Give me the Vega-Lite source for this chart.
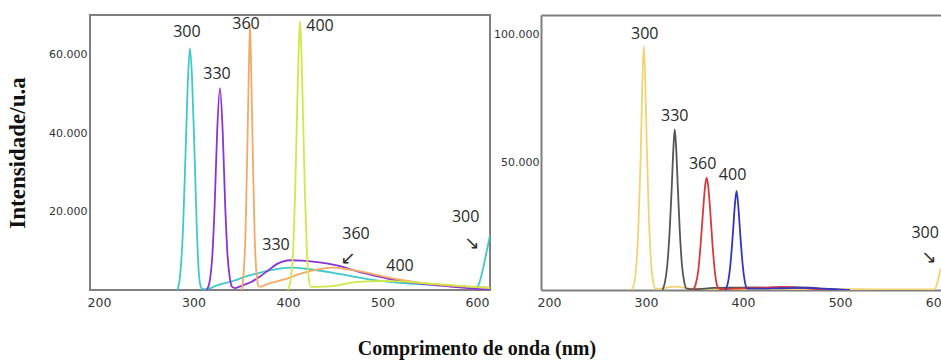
{
  "$schema": "https://vega.github.io/schema/vega-lite/v6.json",
  "background": "white",
  "padding": {"left": 5, "top": 14, "right": 0, "bottom": 4},
  "config": {
    "view": {"stroke": "#7f7f7f", "strokeWidth": 2},
    "concat": {"spacing": 2},
    "axis": {"grid": false, "ticks": false, "tickSize": 0, "labelFont": "DejaVu Sans", "labelColor": "#333333", "labelFlush": false}
  },
  "title": {"text": "Comprimento de onda (nm)", "orient": "bottom", "anchor": "middle", "frame": "bounds", "font": "Liberation Serif", "fontSize": 20, "fontWeight": "bold", "color": "#111111", "offset": 29},
  "resolve": {"scale": {"color": "independent"}},
  "datasets": {
    "linesA": [
      {"ex": "300", "nm": 283, "k": 0}, {"ex": "300", "nm": 286, "k": 4}, {"ex": "300", "nm": 289, "k": 16}, {"ex": "300", "nm": 291.5, "k": 34}, {"ex": "300", "nm": 294, "k": 53}, {"ex": "300", "nm": 296.3, "k": 61.7}, {"ex": "300", "nm": 298.5, "k": 54}, {"ex": "300", "nm": 301, "k": 36}, {"ex": "300", "nm": 303.5, "k": 16}, {"ex": "300", "nm": 305.5, "k": 5}, {"ex": "300", "nm": 307.5, "k": 1}, {"ex": "300", "nm": 310, "k": 0.2}, {"ex": "300", "nm": 316, "k": 0.3}, {"ex": "300", "nm": 325, "k": 1.2}, {"ex": "300", "nm": 342, "k": 2.3}, {"ex": "300", "nm": 355, "k": 3.4}, {"ex": "300", "nm": 370, "k": 4.4}, {"ex": "300", "nm": 385, "k": 5.2}, {"ex": "300", "nm": 402, "k": 5.7}, {"ex": "300", "nm": 423, "k": 5.3}, {"ex": "300", "nm": 448, "k": 4.4}, {"ex": "300", "nm": 465, "k": 3.6}, {"ex": "300", "nm": 484, "k": 2.8}, {"ex": "300", "nm": 518, "k": 1.8}, {"ex": "300", "nm": 553, "k": 1.3}, {"ex": "300", "nm": 589, "k": 0.8}, {"ex": "300", "nm": 598, "k": 0.4}, {"ex": "300", "nm": 602, "k": 1.5}, {"ex": "300", "nm": 606, "k": 5}, {"ex": "300", "nm": 610, "k": 9.5}, {"ex": "300", "nm": 613.8, "k": 14},
      {"ex": "330", "nm": 314, "k": 0}, {"ex": "330", "nm": 317, "k": 2}, {"ex": "330", "nm": 320, "k": 9}, {"ex": "330", "nm": 322.5, "k": 22}, {"ex": "330", "nm": 325, "k": 40}, {"ex": "330", "nm": 328, "k": 51.5}, {"ex": "330", "nm": 331, "k": 40}, {"ex": "330", "nm": 333.5, "k": 22}, {"ex": "330", "nm": 336, "k": 9}, {"ex": "330", "nm": 338.5, "k": 3}, {"ex": "330", "nm": 341, "k": 0.8}, {"ex": "330", "nm": 344, "k": 0.5}, {"ex": "330", "nm": 352, "k": 1.2}, {"ex": "330", "nm": 360, "k": 1.9}, {"ex": "330", "nm": 370, "k": 3.4}, {"ex": "330", "nm": 378, "k": 4.8}, {"ex": "330", "nm": 388, "k": 6.6}, {"ex": "330", "nm": 396, "k": 7.4}, {"ex": "330", "nm": 402, "k": 7.6}, {"ex": "330", "nm": 415, "k": 7.5}, {"ex": "330", "nm": 431, "k": 7.1}, {"ex": "330", "nm": 445, "k": 6.6}, {"ex": "330", "nm": 458, "k": 5.9}, {"ex": "330", "nm": 470, "k": 5.0}, {"ex": "330", "nm": 484, "k": 4.1}, {"ex": "330", "nm": 500, "k": 3.2}, {"ex": "330", "nm": 518, "k": 2.3}, {"ex": "330", "nm": 535, "k": 1.8}, {"ex": "330", "nm": 553, "k": 1.3}, {"ex": "330", "nm": 575, "k": 0.8}, {"ex": "330", "nm": 600, "k": 0.3}, {"ex": "330", "nm": 613.8, "k": 0.2},
      {"ex": "360", "nm": 351, "k": 0}, {"ex": "360", "nm": 353, "k": 4}, {"ex": "360", "nm": 355, "k": 14}, {"ex": "360", "nm": 357, "k": 36}, {"ex": "360", "nm": 358.6, "k": 56}, {"ex": "360", "nm": 359.8, "k": 67.9}, {"ex": "360", "nm": 361, "k": 57}, {"ex": "360", "nm": 362.6, "k": 37}, {"ex": "360", "nm": 364.6, "k": 15}, {"ex": "360", "nm": 366.6, "k": 4.5}, {"ex": "360", "nm": 369, "k": 1}, {"ex": "360", "nm": 371, "k": 0.8}, {"ex": "360", "nm": 378, "k": 1.5}, {"ex": "360", "nm": 390, "k": 2.3}, {"ex": "360", "nm": 399, "k": 2.9}, {"ex": "360", "nm": 410, "k": 3.9}, {"ex": "360", "nm": 423, "k": 4.8}, {"ex": "360", "nm": 435, "k": 5.4}, {"ex": "360", "nm": 448, "k": 5.7}, {"ex": "360", "nm": 465, "k": 5.2}, {"ex": "360", "nm": 484, "k": 4.4}, {"ex": "360", "nm": 508, "k": 3.1}, {"ex": "360", "nm": 530, "k": 2.2}, {"ex": "360", "nm": 553, "k": 1.5}, {"ex": "360", "nm": 585, "k": 0.9}, {"ex": "360", "nm": 613.8, "k": 0.6},
      {"ex": "400", "nm": 400, "k": 0}, {"ex": "400", "nm": 403, "k": 3}, {"ex": "400", "nm": 405.5, "k": 10}, {"ex": "400", "nm": 407.5, "k": 24}, {"ex": "400", "nm": 409.5, "k": 44}, {"ex": "400", "nm": 411.2, "k": 60}, {"ex": "400", "nm": 412.7, "k": 68.6}, {"ex": "400", "nm": 414.2, "k": 61}, {"ex": "400", "nm": 415.9, "k": 45}, {"ex": "400", "nm": 417.9, "k": 25}, {"ex": "400", "nm": 420, "k": 10}, {"ex": "400", "nm": 422, "k": 3}, {"ex": "400", "nm": 424, "k": 0.8}, {"ex": "400", "nm": 430, "k": 0.8}, {"ex": "400", "nm": 448, "k": 1.0}, {"ex": "400", "nm": 468, "k": 1.9}, {"ex": "400", "nm": 485, "k": 2.2}, {"ex": "400", "nm": 500, "k": 2.3}, {"ex": "400", "nm": 518, "k": 2.2}, {"ex": "400", "nm": 536, "k": 1.9}, {"ex": "400", "nm": 553, "k": 1.6}, {"ex": "400", "nm": 571, "k": 1.3}, {"ex": "400", "nm": 595, "k": 0.8}, {"ex": "400", "nm": 613.8, "k": 0.5}
    ],
    "labelsA": [
      {"t": "300", "nm": 293, "k": 65.8}, {"t": "330", "nm": 324.9, "k": 55.1}, {"t": "360", "nm": 355.6, "k": 67.9}, {"t": "400", "nm": 433.9, "k": 67.3},
      {"t": "330", "nm": 387.3, "k": 11.5}, {"t": "360", "nm": 472, "k": 14.2}, {"t": "400", "nm": 518.5, "k": 6.1}, {"t": "300", "nm": 588, "k": 18.6}
    ],
    "arrowsA": [
      {"t": "↙", "nm": 463.5, "k": 7.9}, {"t": "↘", "nm": 594.7, "k": 11.8}
    ],
    "linesB": [
      {"ex": "300", "nm": 285, "k": 0}, {"ex": "300", "nm": 288, "k": 3}, {"ex": "300", "nm": 290.5, "k": 12}, {"ex": "300", "nm": 292.5, "k": 28}, {"ex": "300", "nm": 294.5, "k": 52}, {"ex": "300", "nm": 296.3, "k": 82}, {"ex": "300", "nm": 297.7, "k": 95.7}, {"ex": "300", "nm": 299.1, "k": 84}, {"ex": "300", "nm": 300.9, "k": 55}, {"ex": "300", "nm": 302.9, "k": 29}, {"ex": "300", "nm": 305, "k": 12}, {"ex": "300", "nm": 307.5, "k": 3}, {"ex": "300", "nm": 310, "k": 0.5}, {"ex": "300", "nm": 315, "k": 0.5}, {"ex": "300", "nm": 322, "k": 1.0}, {"ex": "300", "nm": 330, "k": 1.3}, {"ex": "300", "nm": 338, "k": 1.0}, {"ex": "300", "nm": 346, "k": 0.5}, {"ex": "300", "nm": 380, "k": 0.4}, {"ex": "300", "nm": 450, "k": 0.4}, {"ex": "300", "nm": 520, "k": 0.3}, {"ex": "300", "nm": 590, "k": 0.2}, {"ex": "300", "nm": 597, "k": 0.2}, {"ex": "300", "nm": 600, "k": 2.5}, {"ex": "300", "nm": 602, "k": 5.5}, {"ex": "300", "nm": 604, "k": 8.6},
      {"ex": "330", "nm": 317, "k": 0}, {"ex": "330", "nm": 319.5, "k": 3}, {"ex": "330", "nm": 322, "k": 10}, {"ex": "330", "nm": 324.5, "k": 24}, {"ex": "330", "nm": 326.5, "k": 40}, {"ex": "330", "nm": 328.3, "k": 56}, {"ex": "330", "nm": 329.6, "k": 63}, {"ex": "330", "nm": 330.9, "k": 57}, {"ex": "330", "nm": 332.7, "k": 41}, {"ex": "330", "nm": 334.7, "k": 24}, {"ex": "330", "nm": 337, "k": 10}, {"ex": "330", "nm": 339.5, "k": 3}, {"ex": "330", "nm": 342, "k": 0.5}, {"ex": "330", "nm": 350, "k": 0.3}, {"ex": "330", "nm": 370, "k": 0.8}, {"ex": "330", "nm": 390, "k": 0.9}, {"ex": "330", "nm": 410, "k": 1.0}, {"ex": "330", "nm": 430, "k": 0.8}, {"ex": "330", "nm": 450, "k": 1.1}, {"ex": "330", "nm": 470, "k": 0.9}, {"ex": "330", "nm": 485, "k": 0.3}, {"ex": "330", "nm": 500, "k": 0},
      {"ex": "360", "nm": 348, "k": 0}, {"ex": "360", "nm": 351, "k": 2}, {"ex": "360", "nm": 354, "k": 8}, {"ex": "360", "nm": 356.5, "k": 19}, {"ex": "360", "nm": 359, "k": 32}, {"ex": "360", "nm": 361, "k": 41}, {"ex": "360", "nm": 362.5, "k": 44}, {"ex": "360", "nm": 364, "k": 41}, {"ex": "360", "nm": 366, "k": 32}, {"ex": "360", "nm": 368.5, "k": 18}, {"ex": "360", "nm": 371, "k": 7}, {"ex": "360", "nm": 373.5, "k": 1.5}, {"ex": "360", "nm": 376, "k": 0.4}, {"ex": "360", "nm": 390, "k": 0.5}, {"ex": "360", "nm": 420, "k": 0.9}, {"ex": "360", "nm": 440, "k": 1.2}, {"ex": "360", "nm": 460, "k": 0.8}, {"ex": "360", "nm": 480, "k": 0.3}, {"ex": "360", "nm": 500, "k": 0},
      {"ex": "400", "nm": 382, "k": 0}, {"ex": "400", "nm": 384.5, "k": 3}, {"ex": "400", "nm": 387, "k": 10}, {"ex": "400", "nm": 389.5, "k": 22}, {"ex": "400", "nm": 391.5, "k": 33}, {"ex": "400", "nm": 393.3, "k": 38.8}, {"ex": "400", "nm": 395.1, "k": 33}, {"ex": "400", "nm": 397.1, "k": 22}, {"ex": "400", "nm": 399.6, "k": 10}, {"ex": "400", "nm": 402, "k": 3}, {"ex": "400", "nm": 404.5, "k": 0.5}, {"ex": "400", "nm": 430, "k": 0.6}, {"ex": "400", "nm": 460, "k": 0.8}, {"ex": "400", "nm": 490, "k": 0.4}, {"ex": "400", "nm": 510, "k": 0}
    ],
    "labelsB": [
      {"t": "300", "nm": 298.7, "k": 100.4}, {"t": "330", "nm": 329.6, "k": 68.2}, {"t": "360", "nm": 358.4, "k": 49.4}, {"t": "400", "nm": 389.2, "k": 45.1}, {"t": "300", "nm": 587.7, "k": 22.4}
    ],
    "arrowsB": [
      {"t": "↘", "nm": 591.8, "k": 12.4}
    ]
  },
  "hconcat": [
    {
      "width": 400,
      "height": 275,
      "resolve": {"axis": {"x": "independent", "y": "independent"}},
      "layer": [
        {
          "data": {"name": "linesA"},
          "mark": {"type": "line", "interpolate": "monotone", "strokeWidth": 1.8, "clip": true},
          "encoding": {
            "x": {"field": "nm", "type": "quantitative", "scale": {"domain": [190.5, 613.8], "nice": false, "zero": false},
                  "axis": {"orient": "bottom", "values": [200, 300, 400, 500, 600], "title": null, "domain": false, "labelFontSize": 12.5, "labelPadding": 6}},
            "y": {"field": "k", "type": "quantitative", "scale": {"domain": [0, 70.2], "nice": false},
                  "axis": {"orient": "left", "values": [20, 40, 60], "labelExpr": "datum.value + '.000'", "domain": false, "labelFontSize": 11, "labelPadding": 3,
                           "title": "Intensidade/u.a", "titleFont": "Liberation Serif", "titleFontSize": 23, "titleFontWeight": "bold", "titleColor": "#111111", "titlePadding": 16, "minExtent": 45, "maxExtent": 45}},
            "color": {"field": "ex", "type": "nominal", "scale": {"domain": ["300", "330", "360", "400"], "range": ["#3fc9cc", "#8b34d6", "#f3aa66", "#cfe84c"]}, "legend": null}
          }
        },
        {
          "data": {"name": "labelsA"},
          "mark": {"type": "text", "font": "Open Sans", "fontSize": 16, "color": "#2a2a2a"},
          "encoding": {
            "x": {"field": "nm", "type": "quantitative", "axis": null},
            "y": {"field": "k", "type": "quantitative", "axis": null},
            "text": {"field": "t"}
          }
        },
        {
          "data": {"name": "arrowsA"},
          "mark": {"type": "text", "font": "DejaVu Sans", "fontSize": 18, "color": "#2a2a2a"},
          "encoding": {
            "x": {"field": "nm", "type": "quantitative", "axis": null},
            "y": {"field": "k", "type": "quantitative", "axis": null},
            "text": {"field": "t"}
          }
        },
        {
          "mark": {"type": "text", "font": "Liberation Serif", "fontWeight": "bold", "fontSize": 30, "color": "#111111"},
          "encoding": {
            "x": {"datum": 567, "type": "quantitative", "axis": null},
            "y": {"datum": 61.7, "type": "quantitative", "axis": null},
            "text": {"value": "(A)"}
          }
        }
      ]
    },
    {
      "width": 400,
      "height": 275,
      "view": {"stroke": null},
      "resolve": {"axis": {"x": "independent", "y": "independent"}},
      "layer": [
        {
          "data": {"name": "linesB"},
          "mark": {"type": "line", "interpolate": "monotone", "strokeWidth": 1.8, "clip": true},
          "encoding": {
            "x": {"field": "nm", "type": "quantitative", "scale": {"domain": [191.8, 604], "nice": false, "zero": false},
                  "axis": {"orient": "bottom", "values": [200, 300, 400, 500, 600], "title": null, "domain": true, "domainColor": "#7f7f7f", "domainWidth": 2, "labelFontSize": 12.5, "labelPadding": 6}},
            "y": {"field": "k", "type": "quantitative", "scale": {"domain": [0, 107.8], "nice": false},
                  "axis": {"orient": "left", "values": [50, 100], "labelExpr": "datum.value + '.000'", "domain": true, "domainColor": "#7f7f7f", "domainWidth": 2, "labelFontSize": 11, "labelPadding": 2, "title": null}},
            "color": {"field": "ex", "type": "nominal", "scale": {"domain": ["300", "330", "360", "400"], "range": ["#f2d373", "#555555", "#d83a3a", "#3535c4"]}, "legend": null}
          }
        },
        {
          "data": {"name": "labelsB"},
          "mark": {"type": "text", "font": "Open Sans", "fontSize": 16, "color": "#2a2a2a"},
          "encoding": {
            "x": {"field": "nm", "type": "quantitative",
                  "axis": {"orient": "top", "labels": false, "ticks": false, "title": null, "domain": true, "domainColor": "#7f7f7f", "domainWidth": 2}},
            "y": {"field": "k", "type": "quantitative", "axis": null},
            "text": {"field": "t"}
          }
        },
        {
          "data": {"name": "arrowsB"},
          "mark": {"type": "text", "font": "DejaVu Sans", "fontSize": 18, "color": "#2a2a2a"},
          "encoding": {
            "x": {"field": "nm", "type": "quantitative", "axis": null},
            "y": {"field": "k", "type": "quantitative", "axis": null},
            "text": {"field": "t"}
          }
        },
        {
          "mark": {"type": "text", "font": "Liberation Serif", "fontWeight": "bold", "fontSize": 30, "color": "#111111"},
          "encoding": {
            "x": {"datum": 569, "type": "quantitative", "axis": null},
            "y": {"datum": 96.9, "type": "quantitative", "axis": null},
            "text": {"value": "(B)"}
          }
        }
      ]
    }
  ]
}
